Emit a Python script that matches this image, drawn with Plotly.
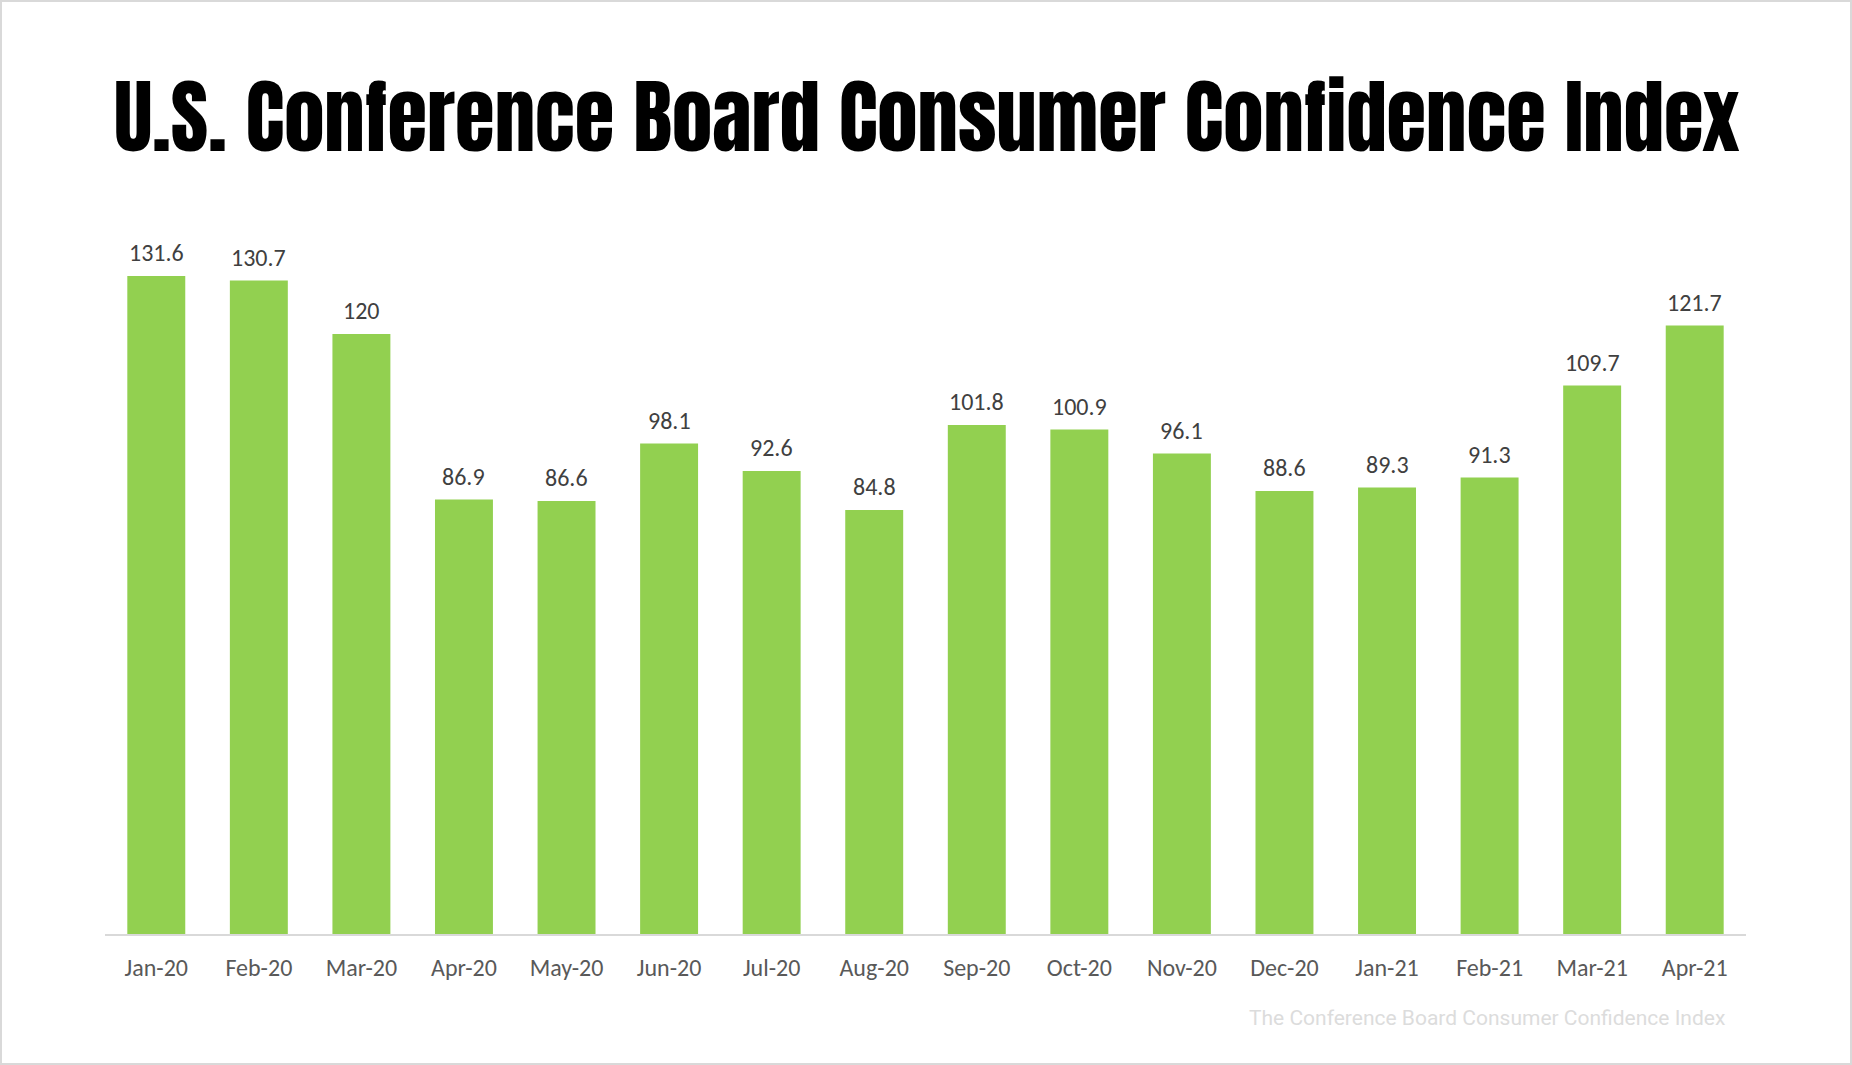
import plotly.graph_objects as go

months = ["Jan-20", "Feb-20", "Mar-20", "Apr-20", "May-20", "Jun-20", "Jul-20", "Aug-20",
          "Sep-20", "Oct-20", "Nov-20", "Dec-20", "Jan-21", "Feb-21", "Mar-21", "Apr-21"]
index_values = [131.6, 130.7, 120, 86.9, 86.6, 98.1, 92.6, 84.8,
                101.8, 100.9, 96.1, 88.6, 89.3, 91.3, 109.7, 121.7]
title_text = "U.S. Conference Board Consumer Confidence Index"
source_text = "The Conference Board Consumer Confidence Index"

W, H = 1852, 1065
ML, MR, MT, MB = 105, 106, 234, 131
PW, PH = W - ML - MR, H - MT - MB

LABEL_FONT = "Carlito, Lato, Liberation Sans, sans-serif"


def px_x(px):
    return (px - ML) / PW


def px_y(py):
    return (H - MB - py) / PH


fig = go.Figure()
fig.add_trace(go.Bar(
    x=months, y=index_values,
    marker=dict(color="#92D050", line=dict(width=0)),
    hoverinfo="x+y",
))

for m, v in zip(months, index_values):
    fig.add_annotation(
        x=m, y=v, xref="x", yref="y",
        text=f"{v:g}", showarrow=False,
        yanchor="bottom", yshift=7,
        font=dict(family=LABEL_FONT, size=24, color="#404040"),
    )

fig.add_annotation(
    x=px_x(927), y=px_y(117), xref="paper", yref="paper",
    text=title_text, showarrow=False,
    xanchor="center", yanchor="middle",
    font=dict(family="Anton, Oswald, Roboto Condensed, sans-serif", size=81, color="#000000"),
)

fig.add_annotation(
    x=px_x(1727), y=px_y(1018), xref="paper", yref="paper",
    text=source_text, showarrow=False,
    xanchor="right", yanchor="middle",
    font=dict(family="Roboto, sans-serif", size=21, color="#DCDCDC"),
)

fig.add_shape(
    type="rect", xref="paper", yref="paper",
    x0=px_x(1), x1=px_x(W - 1), y0=px_y(1), y1=px_y(H - 1),
    line=dict(color="#D9D9D9", width=2), fillcolor="rgba(0,0,0,0)", layer="below",
)

fig.update_layout(
    width=W, height=H,
    margin=dict(l=ML, r=MR, t=MT, b=MB, pad=0),
    paper_bgcolor="#FFFFFF", plot_bgcolor="#FFFFFF",
    bargap=0.435, showlegend=False,
    xaxis=dict(
        showline=True, linecolor="#D9D9D9", linewidth=2,
        showgrid=False, zeroline=False, ticks="",
        ticklabelstandoff=11,
        tickfont=dict(family=LABEL_FONT, size=24, color="#595959"),
        fixedrange=True,
    ),
    yaxis=dict(
        range=[0, 140], visible=False, showgrid=False, zeroline=False, fixedrange=True,
    ),
)

fig.write_html("out.html", config={"displayModeBar": False},
               post_script="document.body.style.margin='0';")
